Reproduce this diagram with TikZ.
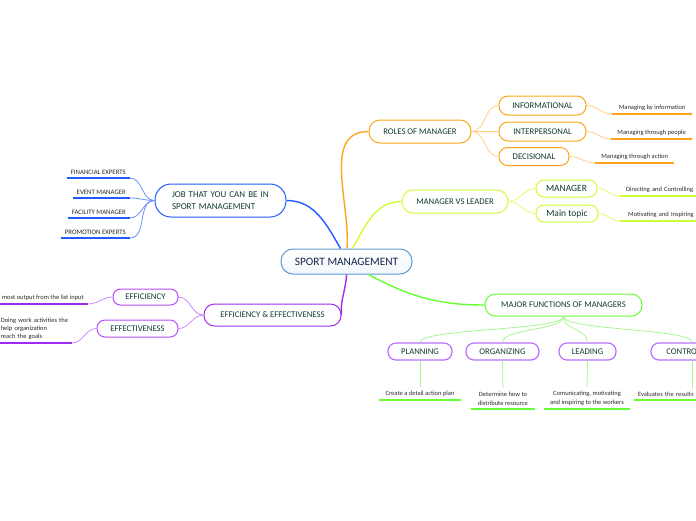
\documentclass[tikz,border=0pt]{standalone}
\usepackage{fontspec}
\setmainfont{Carlito}
\definecolor{nodetext}{HTML}{123D2E}
\definecolor{centertext}{HTML}{15234A}
\definecolor{leaftext}{HTML}{2A2A2A}
\definecolor{cblue}{HTML}{5B9BD5}
\definecolor{orMain}{HTML}{FFA31A}
\definecolor{orLight}{HTML}{FFCF80}
\definecolor{ygMain}{HTML}{CCFF33}
\definecolor{ygLight}{HTML}{DDFF66}
\definecolor{blMain}{HTML}{1F5BFF}
\definecolor{blLight}{HTML}{6B8FFF}
\definecolor{puMain}{HTML}{9D2BF0}
\definecolor{puBox}{HTML}{B84DFF}
\definecolor{puLight}{HTML}{CC88FF}
\definecolor{grMain}{HTML}{66FF33}
\definecolor{grLight}{HTML}{A8F590}
\definecolor{fnBox}{HTML}{B970FF}
\begin{document}
\begin{tikzpicture}[x=1pt,y=-1pt,
  box/.style={draw, fill=white, line width=1pt, inner sep=0pt, text=nodetext,
    font=\fontsize{8.7}{10}\selectfont},
  leaf/.style={inner xsep=4pt, inner ysep=3.5pt, text=leaftext,
    font=\fontsize{6.5}{9}\selectfont},
  jleaf/.style={leaf, anchor=south east, font=\fontsize{6.8}{8}\selectfont},
  mainline/.style={line width=1.4pt},
  subline/.style={line width=0.8pt},
  uline/.style={line width=1.6pt}
]
\useasboundingbox (0,0) rectangle (696,520);

% central
\node[draw=cblue, line width=1pt, top color=white, bottom color=cblue!8, rounded corners=12pt,
  minimum width=131pt, minimum height=25pt, inner sep=0pt, text=centertext,
  font=\fontsize{11.3}{13}\selectfont] (c) at (346.5,261.5) {SPORT MANAGEMENT};

% ROLES OF MANAGER
\node[box, draw=orMain, rounded corners=11pt, minimum width=102pt, minimum height=23pt] (roles) at (420,131.5) {ROLES OF MANAGER};
\node[box, draw=orMain, rounded corners=9pt, minimum width=87pt, minimum height=19pt] (info) at (542.5,105.5) {INFORMATIONAL};
\node[box, draw=orMain, rounded corners=9pt, minimum width=87pt, minimum height=19pt] (inter) at (542.5,131.5) {INTERPERSONAL};
\node[box, draw=orMain, rounded corners=8.5pt, minimum width=70pt, minimum height=18pt] (deci) at (534,156.5) {DECISIONAL};
\node[leaf, anchor=south west, minimum width=80pt] (li) at (612,114) {Managing by information};
\node[leaf, anchor=south west, minimum width=81pt] (lp) at (611,139) {Managing through people};
\node[leaf, anchor=south west, minimum width=79pt] (la) at (595,163) {Managing through action};

% MANAGER VS LEADER
\node[box, draw=ygMain, rounded corners=11pt, minimum width=106pt, minimum height=23pt] (mvl) at (455,201.5) {MANAGER VS LEADER};
\node[box, draw=ygMain, rounded corners=8pt, minimum width=61pt, minimum height=17pt, font=\fontsize{9.5}{11}\selectfont] (mgr) at (566.5,188.5) {MANAGER};
\node[box, draw=ygMain, rounded corners=8pt, minimum width=62pt, minimum height=17pt, font=\fontsize{9.5}{11}\selectfont] (mtop) at (567,213.5) {Main topic};
\node[leaf, anchor=south west, text width=90pt, align=left, inner xsep=6pt] (ldc) at (620,196) {Directing and Controlling};
\node[leaf, anchor=south west, text width=90pt, align=left, inner xsep=8pt] (lmi) at (620,221) {Motivating and Inspiring};

% JOB
\node[box, draw=blMain, rounded corners=16pt, minimum width=131pt, minimum height=33pt, text width=97pt, align=left,
  font=\fontsize{9}{12}\selectfont] (job) at (220.5,200.5) {JOB THAT YOU CAN BE IN\\SPORT MANAGEMENT};
\node[jleaf] (j1) at (130,178) {FINANCIAL EXPERTS};
\node[jleaf] (j2) at (130,198) {EVENT MANAGER};
\node[jleaf] (j3) at (130,218) {FACILITY MANAGER};
\node[jleaf] (j4) at (130,238) {PROMOTION EXPERTS};

% EFFICIENCY & EFFECTIVENESS
\node[box, draw=puMain, rounded corners=10.5pt, minimum width=137pt, minimum height=22pt] (ee) at (272.5,315) {EFFICIENCY \& EFFECTIVENESS};
\node[box, draw=puBox, rounded corners=7.5pt, minimum width=65pt, minimum height=16pt] (effic) at (145.5,297) {EFFICIENCY};
\node[box, draw=puBox, rounded corners=8pt, minimum width=81pt, minimum height=17pt] (effect) at (137.5,328.5) {EFFECTIVENESS};
\node[leaf, anchor=south east, inner ysep=3pt] (le1) at (88,304) {most output from the list input};
\node[leaf, anchor=south east, text width=70pt, align=left, inner xsep=1pt, inner ysep=3pt,
  font=\fontsize{6.5}{8.3}\selectfont] (le2) at (72,343) {Doing work activities the\\help organization\\reach the goals};

% MAJOR FUNCTIONS
\node[box, draw=grMain, rounded corners=10.5pt, minimum width=157pt, minimum height=22pt] (mf) at (563.5,305) {MAJOR FUNCTIONS OF MANAGERS};
\node[box, draw=fnBox, line width=1.2pt, rounded corners=8pt, minimum width=64pt, minimum height=17pt] (plan) at (420,351.5) {PLANNING};
\node[box, draw=fnBox, line width=1.2pt, rounded corners=8pt, minimum width=73pt, minimum height=17pt] (org) at (502.5,351.5) {ORGANIZING};
\node[box, draw=fnBox, line width=1.2pt, rounded corners=8pt, minimum width=57pt, minimum height=17pt] (lead) at (587.5,351.5) {LEADING};
\node[box, draw=fnBox, line width=1.2pt, rounded corners=8pt, minimum width=82pt, minimum height=17pt] (ctrl) at (692,351.5) {CONTROLLING};
\node[leaf, anchor=south, minimum width=82pt] (lplan) at (420,400) {Create a detail action plan};
\node[leaf, anchor=south, minimum width=64pt, align=center] (lorg) at (503,409) {Determine how to\\distribute resource};
\node[leaf, anchor=south, minimum width=86pt, align=center] (llead) at (587,409) {Comunicating, motivating\\and inspiring to the workers};
\node[leaf, anchor=south, text width=108pt, align=left] (lctrl) at (692,400) {Evaluates the results};

% main connectors
\draw[mainline, orMain] ([xshift=0.5pt]c.north) to[out=86,in=180] (roles.west);
\draw[mainline, blMain] ([xshift=-6pt]c.north) to[out=120,in=0] (job.east);
\draw[mainline, ygMain] ([xshift=6pt]c.north) to[out=60,in=180] (mvl.west);
\draw[mainline, puMain] (c.south) to[out=-92,in=95] (ee.east);
\draw[mainline, grMain] ([xshift=22pt]c.south) to[out=-28,in=180] (mf.west);

% roles
\foreach \n in {info,inter,deci} \draw[subline, orLight] (roles.east) to[out=0,in=180] (\n.west);
\draw[subline, orLight] (info.east) to[out=0,in=180] (li.south west);
\draw[subline, orLight] (inter.east) to[out=0,in=180] (lp.south west);
\draw[subline, orLight] (deci.east) to[out=0,in=180] (la.south west);
\draw[uline, orMain] (li.south west) -- (li.south east);
\draw[uline, orMain] (lp.south west) -- (lp.south east);
\draw[uline, orMain] (la.south west) -- (la.south east);

% manager vs leader
\foreach \n in {mgr,mtop} \draw[subline, ygLight] (mvl.east) to[out=0,in=180] (\n.west);
\draw[subline, ygLight] (mgr.east) to[out=0,in=180] (ldc.south west);
\draw[subline, ygLight] (mtop.east) to[out=0,in=180] (lmi.south west);
\draw[uline, ygMain] (ldc.south west) -- (ldc.south east);
\draw[uline, ygMain] (lmi.south west) -- (lmi.south east);

% job
\foreach \n in {j1,j2,j3,j4} {
  \draw[subline, blLight] (job.west) to[out=180,in=0] (\n.south east);
  \draw[uline, blMain] (\n.south west) -- (\n.south east);
}

% efficiency
\draw[subline, puLight] (ee.west) to[out=180,in=0] (effic.east);
\draw[subline, puLight] (ee.west) to[out=180,in=0] (effect.east);
\draw[subline, puLight] (effic.west) to[out=180,in=0] (le1.south east);
\draw[subline, puLight] (effect.west) to[out=180,in=0] (le2.south east);
\draw[uline, puMain] (le1.south west) -- (le1.south east);
\draw[uline, puMain] (le2.south west) -- (le2.south east);

% major functions
\foreach \n/\l in {plan/lplan,org/lorg,lead/llead,ctrl/lctrl} {
  \draw[subline, grLight] (mf.south) .. controls +(0,14) and +(0,-14) .. (\n.north);
  \draw[subline, grLight] (\n.south) -- (\l.north);
  \draw[uline, grMain] (\l.south west) -- (\l.south east);
}
\end{tikzpicture}
\end{document}
